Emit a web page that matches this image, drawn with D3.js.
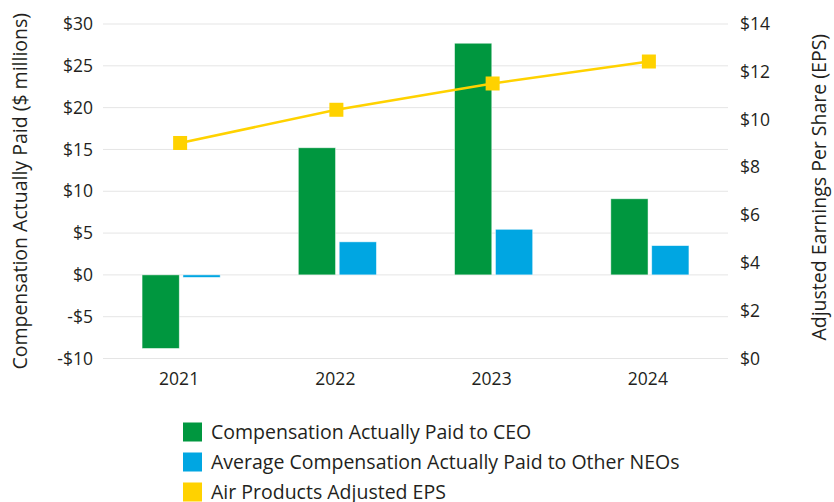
<!DOCTYPE html>
<html>
<head>
<meta charset="utf-8">
<script src="https://cdn.jsdelivr.net/npm/d3@7"></script>
<style>
  html, body { margin: 0; padding: 0; background: #fff; }
  svg { display: block; }
  text { font-family: "Open Sans", "Noto Sans", sans-serif; fill: #231f20; }
</style>
</head>
<body>
<svg id="chart" width="834" height="502"></svg>
<script>
const years = ["2021", "2022", "2023", "2024"];
const ceoCAP = [-8.8, 15.2, 27.7, 9.1];
const neoCAP = [-0.3, 3.95, 5.45, 3.5];
const adjEPS = [9.02, 10.41, 11.51, 12.43];
const leftTicks = [-10, -5, 0, 5, 10, 15, 20, 25, 30];
const rightTicks = [0, 2, 4, 6, 8, 10, 12, 14];
const seriesNames = [
  "Compensation Actually Paid to CEO",
  "Average Compensation Actually Paid to Other NEOs",
  "Air Products Adjusted EPS"
];
const colors = ["#00973f", "#00a6e2", "#ffd200"];

const svg = d3.select("#chart");
const plot = { left: 103, right: 728, top: 24, bottom: 358.5 };

const x = d3.scaleBand().domain(years).range([plot.left, plot.right]);
const x1 = d3.scaleBand().domain(["ceo", "neo"]).range([0, x.bandwidth() * 0.5]).paddingInner(0.09);
const yL = d3.scaleLinear().domain([-10, 30]).range([plot.bottom, plot.top]);
const yR = d3.scaleLinear().domain([0, 14]).range([plot.bottom, plot.top]);

// gridlines
svg.append("g").selectAll("line").data(leftTicks).join("line")
  .attr("x1", plot.left).attr("x2", plot.right)
  .attr("y1", d => yL(d)).attr("y2", d => yL(d))
  .attr("stroke", "#e5e5e5").attr("stroke-width", 1);

// left axis
const axL = svg.append("g").attr("transform", `translate(${plot.left},0)`)
  .call(d3.axisLeft(yL).tickValues(leftTicks).tickSize(0).tickPadding(10)
    .tickFormat(d => (d < 0 ? "-$" + Math.abs(d) : "$" + d)));
axL.select(".domain").remove();
axL.selectAll("text").style("font-size", "17.5px").style("font-family", null).attr("fill", "#231f20");

// right axis
const axR = svg.append("g").attr("transform", `translate(${plot.right},0)`)
  .call(d3.axisRight(yR).tickValues(rightTicks).tickSize(0).tickPadding(12)
    .tickFormat(d => "$" + d));
axR.select(".domain").remove();
axR.selectAll("text").style("font-size", "17.5px").style("font-family", null).attr("fill", "#231f20");

// x axis
const axX = svg.append("g").attr("transform", `translate(0,${plot.bottom})`)
  .call(d3.axisBottom(x).tickSize(0).tickPadding(14));
axX.select(".domain").remove();
axX.selectAll("text").style("font-size", "17.5px").style("font-family", null).attr("fill", "#231f20")
  .attr("dx", -2);

// bars
const groups = svg.append("g").selectAll("g").data(years).join("g")
  .attr("transform", d => `translate(${x(d) + x.bandwidth() * 0.25},0)`);
groups.append("rect")
  .attr("x", x1("ceo")).attr("width", x1.bandwidth())
  .attr("y", (d, i) => yL(Math.max(0, ceoCAP[i])))
  .attr("height", (d, i) => Math.abs(yL(ceoCAP[i]) - yL(0)))
  .attr("fill", colors[0]).attr("stroke", "#ffffff").attr("stroke-opacity", 0.6).attr("stroke-width", 0.8);
groups.append("rect")
  .attr("x", x1("neo")).attr("width", x1.bandwidth())
  .attr("y", (d, i) => yL(Math.max(0, neoCAP[i])))
  .attr("height", (d, i) => Math.abs(yL(neoCAP[i]) - yL(0)))
  .attr("fill", colors[1]).attr("stroke", "#ffffff").attr("stroke-opacity", 0.6).attr("stroke-width", 0.8);

// EPS line
const cx = d => x(d) + x.bandwidth() / 2 - 1;
svg.append("path")
  .datum(years)
  .attr("fill", "none").attr("stroke", colors[2]).attr("stroke-width", 2.5)
  .attr("d", d3.line().x(d => cx(d)).y((d, i) => yR(adjEPS[i])));
const ms = 14;
svg.append("g").selectAll("rect").data(years).join("rect")
  .attr("x", d => cx(d) - ms / 2)
  .attr("y", (d, i) => yR(adjEPS[i]) - ms / 2)
  .attr("width", ms).attr("height", ms)
  .attr("fill", colors[2]);

// axis titles
svg.append("text")
  .attr("transform", `translate(27,${(plot.top + plot.bottom) / 2}) rotate(-90)`)
  .attr("text-anchor", "middle")
  .style("font-size", "19.5px")
  .text("Compensation Actually Paid ($ millions)");
svg.append("text")
  .attr("transform", `translate(826,${(plot.top + plot.bottom) / 2 - 4}) rotate(-90)`)
  .attr("text-anchor", "middle")
  .style("font-size", "19.5px")
  .text("Adjusted Earnings Per Share (EPS)");

// legend
const legend = svg.append("g").attr("transform", "translate(183,432)");
const rows = legend.selectAll("g").data(seriesNames).join("g")
  .attr("transform", (d, i) => `translate(0,${i * 30})`);
rows.append("rect").attr("x", 0).attr("y", -9.5).attr("width", 19).attr("height", 19)
  .attr("fill", (d, i) => colors[i]);
rows.append("text").attr("x", 28).attr("y", 0).attr("dy", "0.35em")
  .style("font-size", "19.5px").text(d => d);
</script>
</body>
</html>
